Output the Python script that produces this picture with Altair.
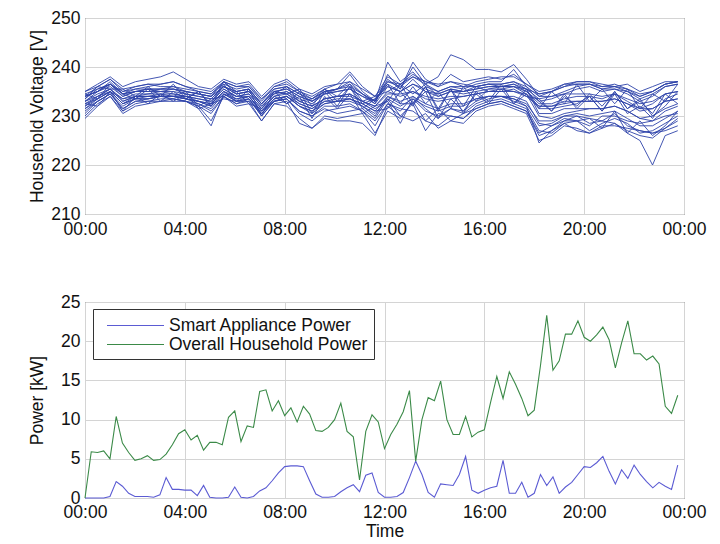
import altair as alt
import pandas as pd

FONT = "Liberation Sans"

# ---------------- Voltage traces (48 samples, 00:00 .. 23:45) ----------------
v01 = [235, 236.5, 238, 236, 237, 237.5, 238, 239, 237.5, 236, 235.5, 237.5, 236.5, 237, 234, 236.5,
       237.5, 235.5, 234.5, 236, 236.5, 237, 235.5, 234, 238, 236.5, 238, 237, 236, 238.5, 237, 237.5,
       238, 237.5, 238.5, 236.5, 234.5, 235, 236, 237, 237, 236, 236.5, 235.5, 234, 235, 236.5, 237]
v02 = [234, 236, 237.5, 235, 236, 236.5, 236, 236, 235.5, 235, 234.5, 237, 236, 236, 233, 236,
       236.5, 235, 233.5, 235, 235.5, 238.5, 235, 233, 241, 237, 239, 236, 235, 236, 235.5, 236.5,
       237, 237, 239.5, 236, 233, 233.5, 234.5, 235.5, 236, 235, 235.5, 234.5, 233, 234, 236, 236.5]
v03 = [233, 235, 236, 234, 235, 235, 235, 235.5, 234.5, 234, 233.5, 236, 234.5, 235, 232, 234.5,
       236, 233, 233.5, 235.5, 233, 236, 232.5, 233.5, 236, 235, 237.5, 235, 234, 235, 234.5, 235,
       235.5, 236, 236, 235, 233, 231, 234, 232, 234.5, 232, 235, 231.5, 233, 230.5, 234.5, 232.5]
v04 = [231.5, 233.5, 235, 232.5, 233.5, 233.5, 234, 234, 233.5, 233, 232, 235, 233, 234, 230.5, 233.5,
       234, 232, 230.5, 232.5, 233, 233.5, 232, 230, 234, 232.5, 232.5, 235, 229.5, 233.5, 231, 234.5,
       232.5, 235.5, 232.5, 234.5, 230, 229.5, 230.5, 231, 231.5, 231.5, 232, 231, 229.5, 229, 231, 232]
v05 = [229.5, 232, 234, 230.5, 232, 232.5, 233, 233, 233, 232, 229, 234, 232, 232.5, 229, 232.5,
       232, 229.5, 227.5, 230, 229.5, 230, 230.5, 226.5, 231, 229.5, 233, 229, 228, 230, 229.5, 231.5,
       232.5, 233, 232, 231, 226, 227, 229, 230, 228.5, 229, 230.5, 228, 227, 226.5, 227.5, 229.5]
v06 = [234.5, 235.5, 236.5, 235, 235.5, 236, 236.5, 237, 236, 235, 234.5, 236.5, 235.5, 236, 233.5, 235.5,
       236, 234.5, 233, 235, 235.5, 236, 234.5, 233, 237, 236, 238, 236.5, 238, 242.5, 241.5, 239.5,
       239.5, 239, 240.5, 237.5, 234, 234, 235, 236, 236.5, 235.5, 236, 235, 233.5, 234.5, 236, 236.5]
v07 = [232.5, 234, 235.5, 233, 234, 234, 234.5, 234, 234, 233.5, 233, 235.5, 234, 234.5, 231.5, 234,
       234.5, 233, 232, 233.5, 234, 234.5, 233, 231.5, 233, 236.5, 232.5, 236, 231.5, 235.5, 232, 236,
       235, 235.5, 235, 234.5, 231.5, 231.5, 232, 232.5, 234, 231, 234.5, 230.5, 232, 229.5, 233.5, 234.5]
v08 = [230.5, 233, 234.5, 231.5, 233, 233, 233.5, 233.5, 233, 231.5, 228, 234.5, 233, 233.5, 230, 233,
       233.5, 230.5, 229, 231, 231.5, 232, 231, 228, 232.5, 231, 234, 231.5, 229.5, 231.5, 230.5, 232.5,
       233.5, 234, 233, 232, 228, 228.5, 230, 230.5, 230, 230.5, 231, 229.5, 228, 228, 229.5, 231]
v09 = [234, 235, 237, 234.5, 235.5, 235.5, 235.5, 235.5, 235, 234.5, 234, 237, 235, 235.5, 232.5, 235.5,
       236, 234.5, 233.5, 235, 235.5, 236.5, 234.5, 233, 237.5, 235.5, 240, 236.5, 235, 236, 236, 236,
       236.5, 236.5, 237, 235.5, 231.5, 235, 232.5, 236.5, 233, 235.5, 232.5, 235.5, 231.5, 234.5, 233, 236.5]
v10 = [234.5, 233.5, 236.5, 234.5, 233.5, 235.5, 233, 235, 233.5, 235, 232, 236.5, 233, 235.5, 230, 235,
       234.5, 232.5, 231.5, 233.5, 234, 234, 233, 232, 235, 234, 235, 233.5, 233, 233.5, 234, 234.5,
       235, 235, 235.5, 234, 232, 232, 232.5, 233, 233, 233, 233.5, 232.5, 231, 231.5, 233, 233.5]
v11 = [232, 234, 235.5, 233, 234, 234, 234, 234, 233.5, 233, 232.5, 235, 233.5, 234, 231, 233.5,
       234, 232.5, 231.5, 233, 233, 233.5, 232.5, 231, 234, 233, 234, 232.5, 231.5, 232.5, 232.5, 233.5,
       234, 234, 233.5, 232.5, 229, 229, 230, 230, 229.5, 229, 228.5, 226.5, 225, 220, 226, 227]
v12 = [232.5, 232, 235, 231, 234, 232.5, 234.5, 233, 234.5, 231.5, 232.5, 233.5, 233, 233, 230.5, 233,
       233.5, 231, 230, 231.5, 230.5, 231, 231.5, 229.5, 233.5, 230, 232.5, 227, 230.5, 230, 229.5, 232,
       233, 233.5, 232.5, 231.5, 227, 226.5, 228.5, 229, 227, 228.5, 229.5, 228.5, 226.5, 227, 228.5, 230]
v13 = [233.5, 235.5, 236.5, 234.5, 235, 235, 235.5, 235.5, 235, 234.5, 234, 236, 235, 235.5, 232.5, 235,
       234.5, 235.5, 232, 235.5, 234, 236.5, 233, 234, 235, 236.5, 234.5, 236.5, 234, 235, 235, 235.5,
       236, 236, 236, 235.5, 234.5, 235, 236.5, 237, 237, 236.5, 236, 236.5, 235, 236, 237, 237]
v14 = [232.5, 233.5, 235, 232.5, 233.5, 234, 234, 234, 235, 232, 233.5, 234, 235, 232.5, 231.5, 235,
       232.5, 234, 229.5, 234, 231.5, 234.5, 230.5, 232, 233, 228.5, 233.5, 231, 230, 231.5, 231, 233,
       234, 234, 234, 233, 228.5, 228, 229.5, 229, 228, 230, 230, 229, 228.5, 229, 230, 230.5]
v15 = [234, 235, 236.5, 234, 235, 235.5, 235, 235, 234.5, 234, 233.5, 236, 234.5, 235, 232, 234.5,
       235, 233.5, 232.5, 234.5, 235.5, 237, 234.5, 232.5, 238.5, 235.5, 241, 237.5, 236, 237, 236.5, 236,
       236.5, 236, 236.5, 235, 232.5, 232.5, 233.5, 234, 234, 233.5, 234.5, 233, 231.5, 232.5, 234.5, 235]
v16 = [233, 234.5, 235.5, 233.5, 234.5, 234.5, 235, 234.5, 234, 233.5, 233, 235.5, 234, 234.5, 231.5, 234,
       235, 233, 232, 233.5, 234, 234.5, 233, 232, 234.5, 234.5, 235, 234, 233.5, 234, 234, 234.5,
       235, 235, 235, 234, 233.5, 231, 234.5, 231.5, 234, 231, 235, 231.5, 233.5, 230, 232, 235]
v17 = [230, 232.5, 234, 231, 232.5, 233, 233, 233.5, 233, 232, 230.5, 234, 232.5, 233, 229, 232.5,
       233, 228.5, 227.5, 229.5, 229, 229, 228.5, 226, 232, 230, 229, 230.5, 227.5, 229, 228.5, 231,
       232, 232.5, 231.5, 230.5, 225, 226, 228, 227.5, 226.5, 228, 228, 227.5, 227, 226.5, 227, 228]
v18 = [235, 236, 237.5, 235.5, 236, 236.5, 236.5, 237, 236, 235.5, 235, 237, 236, 236.5, 233.5, 236,
       237, 235, 234, 235.5, 236.5, 239, 236, 234, 237, 236.5, 238.5, 237, 236.5, 237, 236, 237,
       237.5, 238, 238, 236.5, 235, 235.5, 236.5, 236.5, 236.5, 236, 236, 235.5, 234.5, 235, 236.5, 237]
v19 = [232, 233.5, 235, 232.5, 234, 234, 234, 234, 233.5, 233, 232, 234.5, 233.5, 234, 231, 233,
       234, 232, 231, 233, 233.5, 233.5, 232.5, 231, 231.5, 235, 232, 236, 231, 235.5, 230.5, 235,
       233, 236.5, 232.5, 235.5, 230.5, 230.5, 231.5, 231.5, 231.5, 231.5, 232, 231, 229.5, 230, 231.5, 232.5]
v20 = [233.5, 236, 235.5, 235.5, 234, 236, 234, 236.5, 233.5, 235, 232.5, 237, 234.5, 235, 232.5, 235,
       235.5, 234, 233, 234.5, 235, 235.5, 234, 233, 236.5, 235, 236.5, 235, 234.5, 235.5, 235, 235.5,
       236, 236, 236.5, 235.5, 233.5, 234, 234.5, 234.5, 234.5, 234, 234.5, 233.5, 232.5, 233, 234.5, 235]
v21 = [231.5, 233, 234.5, 231.5, 233, 233.5, 234, 233.5, 233, 232.5, 231, 234, 232.5, 233.5, 230, 233,
       233.5, 231, 230, 232, 232, 232.5, 231, 229, 232.5, 231.5, 231, 229, 231.5, 229, 230.5, 231.5,
       232.5, 233, 232, 231, 226.5, 228, 229, 229, 229.5, 227.5, 231, 226.5, 229, 226, 228, 231]
v22 = [233, 234, 235, 233.5, 234, 234.5, 234.5, 234.5, 234, 233, 232.5, 235, 234, 234, 231, 234,
       232.5, 235, 230.5, 235, 232, 236, 231.5, 233.5, 236.5, 232.5, 236, 232.5, 235, 231.5, 236, 233,
       235.5, 235.5, 236, 234.5, 232, 232, 233, 233, 233, 233, 233.5, 232.5, 231.5, 231.5, 233, 233.5]
v23 = [234, 235, 236.5, 234.5, 235, 235.5, 235.5, 236, 235, 234.5, 234, 236, 235, 235.5, 232.5, 235,
       235.5, 234, 233, 234.5, 235, 235.5, 234, 232.5, 236, 235, 236.5, 235.5, 234.5, 235.5, 235, 236,
       236.5, 236.5, 237, 236, 234, 235, 236, 236.5, 236.5, 235.5, 235.5, 235, 234, 235, 236.5, 237]
v24 = [231, 233, 234.5, 232, 233.5, 233.5, 234, 234, 233.5, 232.5, 231.5, 234.5, 233, 233.5, 230.5, 233.5,
       234, 232, 231, 232.5, 233, 233, 232, 230.5, 233.5, 232, 233.5, 232, 231, 232, 232, 233.5,
       234, 234, 233.5, 232, 224.5, 227, 228.5, 227, 226.5, 227.5, 228.5, 227, 226, 225.5, 227.5, 229]

voltage_lines = [v01, v02, v03, v04, v05, v06, v07, v08, v09, v10, v11, v12,
                 v13, v14, v15, v16, v17, v18, v19, v20, v21, v22, v23, v24]

# ---------------- Power (96 samples, every 15 minutes) ----------------
smart_power = [0, 0, 0, 0, 0.2, 2.1, 1.5, 0.6,
               0.2, 0.2, 0.2, 0.1, 0.4, 2.6, 1.1, 1.1,
               1.0, 1.0, 0.3, 1.6, 0.1, 0, 0, 0.1,
               1.4, 0.1, 0, 0.2, 0.9, 1.3, 2.2, 3.2,
               4.0, 4.1, 4.1, 4.0, 2.2, 0.5, 0.1, 0.1,
               0.2, 0.8, 1.3, 1.7, 0.8, 2.9, 3.2, 0.7,
               0.1, 0.1, 0.2, 0.7, 2.6, 4.7, 3.0, 0.7,
               0.1, 1.8, 1.7, 1.6, 3.0, 5.3, 1.0, 0.6,
               1.0, 1.3, 1.5, 4.8, 0.6, 0.6, 2.0, 0.1,
               0.6, 3.0, 1.6, 2.7, 0.6, 1.4, 2.0, 3.0,
               4.0, 3.9, 4.5, 5.3, 3.4, 1.8, 3.6, 2.5,
               4.2, 3.0, 2.1, 1.3, 2.0, 1.5, 1.1, 4.2]
overall_power = [0, 5.9, 5.8, 6.0, 5.0, 10.4, 7.0, 5.8,
                 4.8, 5.0, 5.4, 4.8, 4.9, 5.6, 6.8, 8.2,
                 8.7, 7.4, 8.0, 6.1, 7.1, 7.1, 6.8, 10.3,
                 11.1, 7.2, 9.2, 9.0, 13.6, 13.8, 11.1, 12.4,
                 10.5, 11.5, 9.7, 11.7, 10.7, 8.6, 8.5, 9.0,
                 10.0, 12.1, 8.5, 7.8, 2.3, 8.5, 10.6, 9.7,
                 6.3, 8.1, 9.4, 11.0, 13.7, 4.7, 10.0, 12.8,
                 12.4, 14.9, 10.0, 8.1, 8.1, 10.4, 7.8, 8.4,
                 8.7, 12.2, 15.5, 12.7, 16.1, 14.5, 12.7, 10.5,
                 11.2, 16.9, 23.3, 16.3, 17.5, 20.9, 20.9, 22.6,
                 20.5, 20.0, 20.8, 21.8, 20.2, 16.6, 19.8, 22.6,
                 18.4, 18.4, 17.6, 18.1, 17.1, 11.7, 10.8, 13.1]

series_names = ["Smart Appliance Power", "Overall Household Power"]
series_colors = ["#5b5bd3", "#3b8a48"]
hour_ticks = [0, 4, 8, 12, 16, 20, 24]
volt_ticks = [210, 220, 230, 240, 250]
power_ticks = [0, 5, 10, 15, 20, 25]

# time grids
hours_v = [i * 23.75 / 47 for i in range(48)]
hours_p = [i * 0.25 for i in range(96)]

vrows = []
for k, vals in enumerate(voltage_lines):
    for h, v in zip(hours_v, vals):
        vrows.append({"h": h, "v": v, "line": k})
vdf = pd.DataFrame(vrows)

prows = []
for name, vals in zip(series_names, [smart_power, overall_power]):
    for i, (h, p) in enumerate(zip(hours_p, vals)):
        prows.append({"h": h, "p": p, "series": name, "order": i})
pdf = pd.DataFrame(prows)

label_expr = "(datum.value % 24 < 10 ? '0' : '') + (datum.value % 24) + ':00'"

W, H = 599, 196

top = alt.Chart(vdf).mark_line(strokeWidth=1.0, color="#2f44aa", opacity=0.9).encode(
    x=alt.X("h:Q", scale=alt.Scale(domain=[0, 24], nice=False),
            axis=alt.Axis(values=hour_ticks, labelExpr=label_expr, title=None)),
    y=alt.Y("v:Q", scale=alt.Scale(domain=[210, 250], nice=False),
            axis=alt.Axis(values=volt_ticks, title="Household Voltage [V]",
                          titleX=-39, titleY=H / 2)),
    detail="line:N",
).properties(width=W, height=H)

bottom = alt.Chart(pdf).mark_line(strokeWidth=1.1).encode(
    x=alt.X("h:Q", scale=alt.Scale(domain=[0, 24], nice=False),
            axis=alt.Axis(values=hour_ticks, labelExpr=label_expr, title="Time",
                          labelPadding=5, titlePadding=2)),
    y=alt.Y("p:Q", scale=alt.Scale(domain=[0, 25], nice=False),
            axis=alt.Axis(values=power_ticks, title="Power [kW]",
                          titleX=-39, titleY=H / 2)),
    color=alt.Color("series:N", scale=alt.Scale(domain=series_names, range=series_colors),
                    legend=alt.Legend(title=None, orient="none", legendX=8, legendY=H + 54 + 8 + 33,
                                      symbolType="M-3,0L3,0", symbolSize=361,
                                      symbolOffset=26, symbolStrokeWidth=1.2,
                                      labelFontSize=17.5, labelFont=FONT, labelColor="#111",
                                      labelLimit=400, labelOffset=23, rowPadding=0,
                                      strokeColor="#333", fillColor="white", padding=6)),
    order="order:Q",
).properties(width=W, height=H)

chart = alt.vconcat(top, bottom, spacing=54).properties(
    padding={"left": 19, "top": 0, "right": 5, "bottom": 0}
).configure_view(
    stroke="#333", strokeWidth=1
).configure_axis(
    labelFont=FONT, titleFont=FONT, labelFontSize=17.5, titleFontSize=17.5,
    titleFontWeight="normal", labelColor="#111", titleColor="#111",
    gridColor="#d4d4d4", gridWidth=1, domain=False, ticks=False,
    labelPadding=6, labelFlush=False,
).configure_axisY(labelPadding=5)

chart.save("out.html", embed_options={"renderer": "svg", "actions": False})
